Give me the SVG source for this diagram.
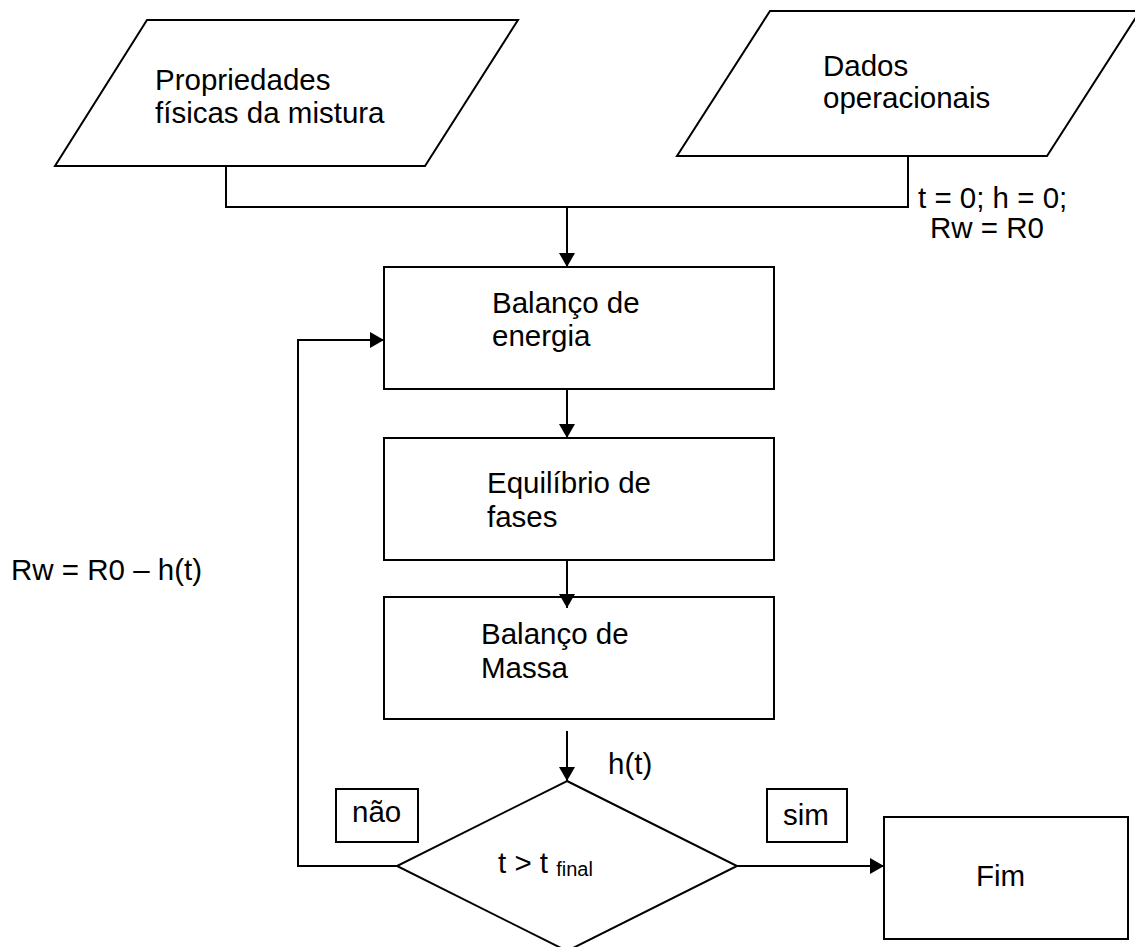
<svg xmlns="http://www.w3.org/2000/svg" width="1135" height="947" viewBox="0 0 1135 947">
<style>
.s{fill:#fff;stroke:#000;stroke-width:2}
.c{fill:none;stroke:#000;stroke-width:2}
text{font-family:"Liberation Sans",Arial,sans-serif;font-size:29.5px;fill:#000}
.sub{font-size:20px}
</style>
<defs>
<marker id="ah" viewBox="0 0 14 16" markerWidth="14" markerHeight="16" refX="14" refY="8" orient="auto" markerUnits="userSpaceOnUse">
<path d="M0,0 L14,8 L0,16 z" fill="#000"/>
</marker>
</defs>
<rect width="1135" height="947" fill="#fff"/>
<g id="propriedades">
<polygon class="s" points="147,20 518,20 425,166 55,166"/>
<text x="155" y="90">Propriedades</text>
<text x="155" y="123">físicas da mistura</text>
</g>
<g id="dados">
<polygon class="s" points="770,11 1140,11 1047,156 677,156"/>
<text x="823" y="76">Dados</text>
<text x="823" y="108">operacionais</text>
</g>
<g id="init-label">
<text x="918" y="208">t = 0; h = 0;</text>
<text x="930" y="238">Rw = R0</text>
</g>
<g id="balanco-energia">
<rect class="s" x="384" y="267" width="390" height="122"/>
<text x="492" y="313">Balanço de</text>
<text x="492" y="346">energia</text>
</g>
<g id="equilibrio">
<rect class="s" x="384" y="438" width="390" height="122"/>
<text x="487" y="493">Equilíbrio de</text>
<text x="487" y="527">fases</text>
</g>
<g id="balanco-massa">
<rect class="s" x="384" y="597" width="390" height="122"/>
<text x="481" y="644">Balanço de</text>
<text x="481" y="678">Massa</text>
</g>
<g id="rw-label">
<text x="11" y="580">Rw = R0 – h(t)</text>
</g>
<g id="ht-label">
<text x="608" y="774">h(t)</text>
</g>
<g id="decisao">
<polygon class="s" points="567,781 737,866 567,951 397,866"/>
<text x="498" y="873">t &gt; t <tspan class="sub" dy="3">final</tspan></text>
</g>
<g id="nao">
<rect class="s" x="336" y="789" width="82" height="53"/>
<text x="352" y="822">não</text>
</g>
<g id="sim">
<rect class="s" x="767" y="789" width="80" height="53"/>
<text x="783" y="825">sim</text>
</g>
<g id="fim">
<rect class="s" x="884" y="817" width="244" height="122"/>
<text x="976" y="886">Fim</text>
</g>
<g id="connectors">
<polyline class="c" points="226,166 226,207 908,207 908,156"/>
<line class="c" x1="567" y1="207" x2="567" y2="267" marker-end="url(#ah)"/>
<line class="c" x1="567" y1="389" x2="567" y2="438" marker-end="url(#ah)"/>
<line class="c" x1="567" y1="560" x2="567" y2="608" marker-end="url(#ah)"/>
<line class="c" x1="567" y1="731" x2="567" y2="781" marker-end="url(#ah)"/>
<polyline class="c" points="397,866 298,866 298,340 384,340" marker-end="url(#ah)"/>
<line class="c" x1="737" y1="866" x2="884" y2="866" marker-end="url(#ah)"/>
</g>
</svg>
